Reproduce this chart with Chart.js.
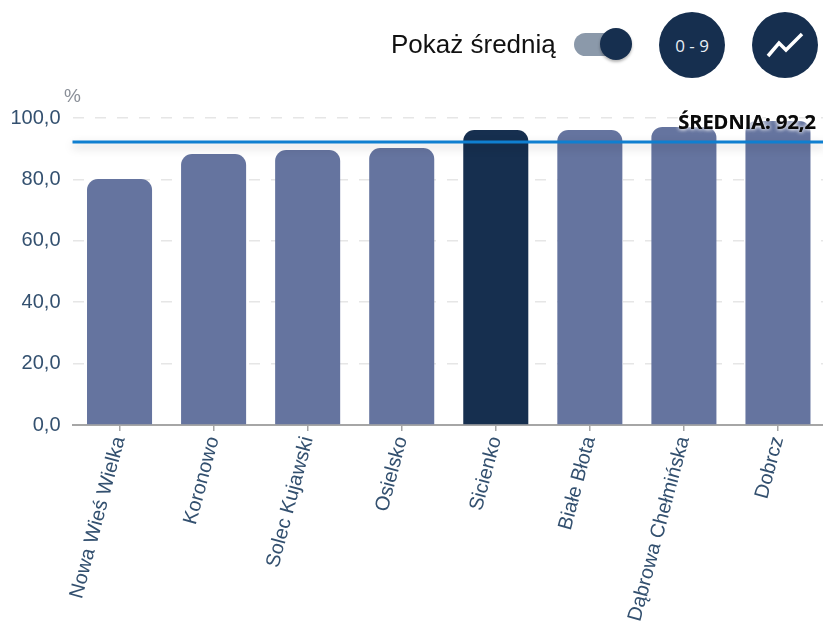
<!DOCTYPE html>
<html><head><meta charset="utf-8">
<script src="https://cdn.jsdelivr.net/npm/chart.js@4/dist/chart.umd.min.js"></script>
<style>
html,body{margin:0;padding:0;background:#fff;overflow:hidden;width:823px;height:621px}
#c{position:absolute;left:0;top:0}
.lbl{position:absolute;left:391px;top:29px;font:26px "Liberation Sans",sans-serif;color:#111;line-height:30px;white-space:nowrap}
.track{position:absolute;left:574px;top:33px;width:50px;height:23px;border-radius:12px;background:#8b99aa}
.knob{position:absolute;left:600px;top:28px;width:32px;height:32px;border-radius:50%;background:#162f4f;box-shadow:0 2px 3px rgba(0,0,0,.3)}
.btn{position:absolute;top:12px;width:66px;height:66px;border-radius:50%;background:#162f4f;color:#e8eef5;display:flex;align-items:center;justify-content:center;font:17px "Open Sans",sans-serif}
.pct{position:absolute;left:64px;top:85px;font:19px "Liberation Sans",sans-serif;color:#8a8f98}
</style></head><body>
<canvas id="c" width="825" height="621"></canvas>
<div class="pct">%</div>
<div class="lbl">Pokaż średnią</div>
<div class="track"></div><div class="knob"></div>
<div class="btn" style="left:659px">0 - 9</div>
<div class="btn" style="left:752px"><svg width="38" height="28" viewBox="0 0 38 28"><polyline points="2,25 13,12 20,19 36,3" fill="none" stroke="#fff" stroke-width="3.5"/></svg></div>
<script>
const categories=["Nowa Wieś Wielka","Koronowo","Solec Kujawski","Osielsko","Sicienko","Białe Błota","Dąbrowa Chełmińska","Dobrcz"];
const values=[80.1,88.3,89.6,90.2,96.1,96.1,97.1,99.0];
const highlighted="Sicienko";
const average=92.2;
const averageLabel="ŚREDNIA: 92,2";
const yTicks=[0,20,40,60,80,100];
const avgPlugin={id:'avg',afterDatasetsDraw(chart){
  const {ctx,chartArea:a,scales:{y}}=chart;const py=y.getPixelForValue(average);
  ctx.save();
  ctx.shadowColor='rgba(0,0,0,.22)';ctx.shadowBlur=10;ctx.shadowOffsetY=4;
  ctx.strokeStyle='#0f7fd0';ctx.lineWidth=3;
  ctx.beginPath();ctx.moveTo(a.left,py);ctx.lineTo(a.right,py);ctx.stroke();
  ctx.shadowColor='#fff';ctx.shadowBlur=4;ctx.shadowOffsetY=0;
  ctx.font='bold 20px "Open Sans",sans-serif';ctx.fillStyle='#0a0a0a';ctx.textAlign='right';ctx.textBaseline='middle';
  ctx.fillText(averageLabel,816,py-19);ctx.fillText(averageLabel,816,py-19);
  ctx.restore();
}};
new Chart(document.getElementById('c'),{type:'bar',
 data:{labels:categories,datasets:[{data:values,
   backgroundColor:categories.map(c=>c===highlighted?'#162f4f':'#65749f'),
   borderRadius:{topLeft:11,topRight:11,bottomLeft:0,bottomRight:0},borderSkipped:false,
   barPercentage:1,categoryPercentage:65/94}]},
 plugins:[avgPlugin],
 options:{responsive:false,animation:false,
  layout:{padding:{top:118,left:0,right:0,bottom:0}},
  plugins:{legend:{display:false},tooltip:{enabled:false}},
  scales:{
   y:{min:0,max:100,afterBuildTicks(s){s.ticks=yTicks.map(v=>({value:v}));},
      afterFit(s){s.width=72.5;},
      border:{display:false,dash:[11,11]},
      grid:{color:'#e6e6e6',lineWidth:1.5,drawTicks:false,tickLength:0},
      ticks:{padding:12,color:'#33506f',font:{family:'"Liberation Sans",sans-serif',size:20},
             callback:v=>v.toFixed(1).replace('.',',')}},
   x:{afterFit(s){s.height=196;},
      border:{color:'#a6a6a6',width:2},
      grid:{offset:false,drawOnChartArea:false,drawTicks:true,tickLength:6,color:'#a6a6a6',lineWidth:1.5},
      ticks:{minRotation:75,maxRotation:75,autoSkip:false,padding:3,color:'#33506f',
             font:{family:'"Liberation Sans",sans-serif',size:20}}}
  }}});
</script></body></html>
